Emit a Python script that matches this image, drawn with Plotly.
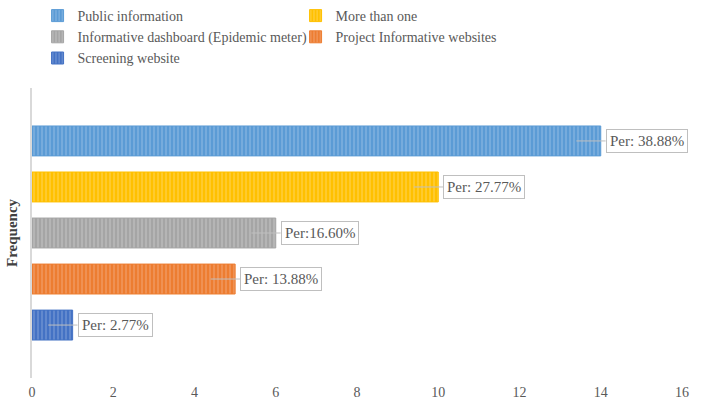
import plotly.graph_objects as go

categories = ["Public information", "More than one", "Informative dashboard (Epidemic meter)",
              "Project Informative websites", "Screening website"]
frequency = [14, 10, 6, 5, 1]
labels = ["Per: 38.88%", "Per: 27.77%", "Per:16.60%", "Per: 13.88%", "Per: 2.77%"]
colors = ["#5B9BD5", "#FFC000", "#A5A5A5", "#ED7D31", "#4472C4"]
stripe = ["#A9CBEA", "#FFDE80", "#D3D3D3", "#F5B690", "#9AB3E0"]
positions = [5, 4, 3, 2, 1]

SERIF = "Liberation Serif, Times New Roman, serif"

fig = go.Figure()
for cat, v, c, s, p in zip(categories, frequency, colors, stripe, positions):
    fig.add_trace(go.Bar(
        x=[v], y=[p], orientation="h", name=cat, width=0.65,
        marker=dict(color=c, line=dict(color=c, width=1),
                    pattern=dict(shape="|", fgcolor=s, size=4, solidity=0.35)),
        hoverinfo="skip",
    ))

for v, p, t in zip(frequency, positions, labels):
    fig.add_annotation(
        x=v - 0.6, y=p, xref="x", yref="y",
        ax=v + 0.12, ay=p, axref="x", ayref="y",
        text=t, showarrow=True, arrowhead=0, arrowwidth=1, arrowcolor="#BFBFBF",
        xanchor="left", yanchor="middle",
        bordercolor="#BFBFBF", borderwidth=1, borderpad=3, bgcolor="white",
        font=dict(family=SERIF, size=15, color="#595959"),
    )

fig.add_annotation(
    x=0, y=0.5, xref="paper", yref="paper", xshift=-20, xanchor="center", yanchor="middle",
    text="<b>Frequency</b>", textangle=-90, showarrow=False,
    font=dict(family=SERIF, size=15, color="#404040"),
)

fig.update_layout(
    width=709, height=420,
    margin=dict(l=32, r=27, t=88, b=42, autoexpand=False),
    plot_bgcolor="white", paper_bgcolor="white",
    barmode="overlay",
    showlegend=True,
    legend=dict(orientation="h", x=0.053, y=1.0, xanchor="left", yanchor="top",
                xref="container", yref="container",
                entrywidth=213, entrywidthmode="pixels", traceorder="normal",
                font=dict(family=SERIF, size=14, color="#595959"),
                itemwidth=30, tracegroupgap=0, bgcolor="rgba(0,0,0,0)"),
    xaxis=dict(range=[0, 16], dtick=2, showgrid=False, zeroline=False, showline=False,
               ticks="", ticklabelstandoff=4, automargin=False,
               tickfont=dict(family=SERIF, size=14, color="#595959")),
    yaxis=dict(range=[-0.15, 6.15], showticklabels=False, showgrid=False, zeroline=False,
               showline=True, linecolor="#D9D9D9", linewidth=2, ticks="", automargin=False),
)

fig.write_html("out.html", config={"displayModeBar": False},
               post_script="document.body.style.margin='0';")
